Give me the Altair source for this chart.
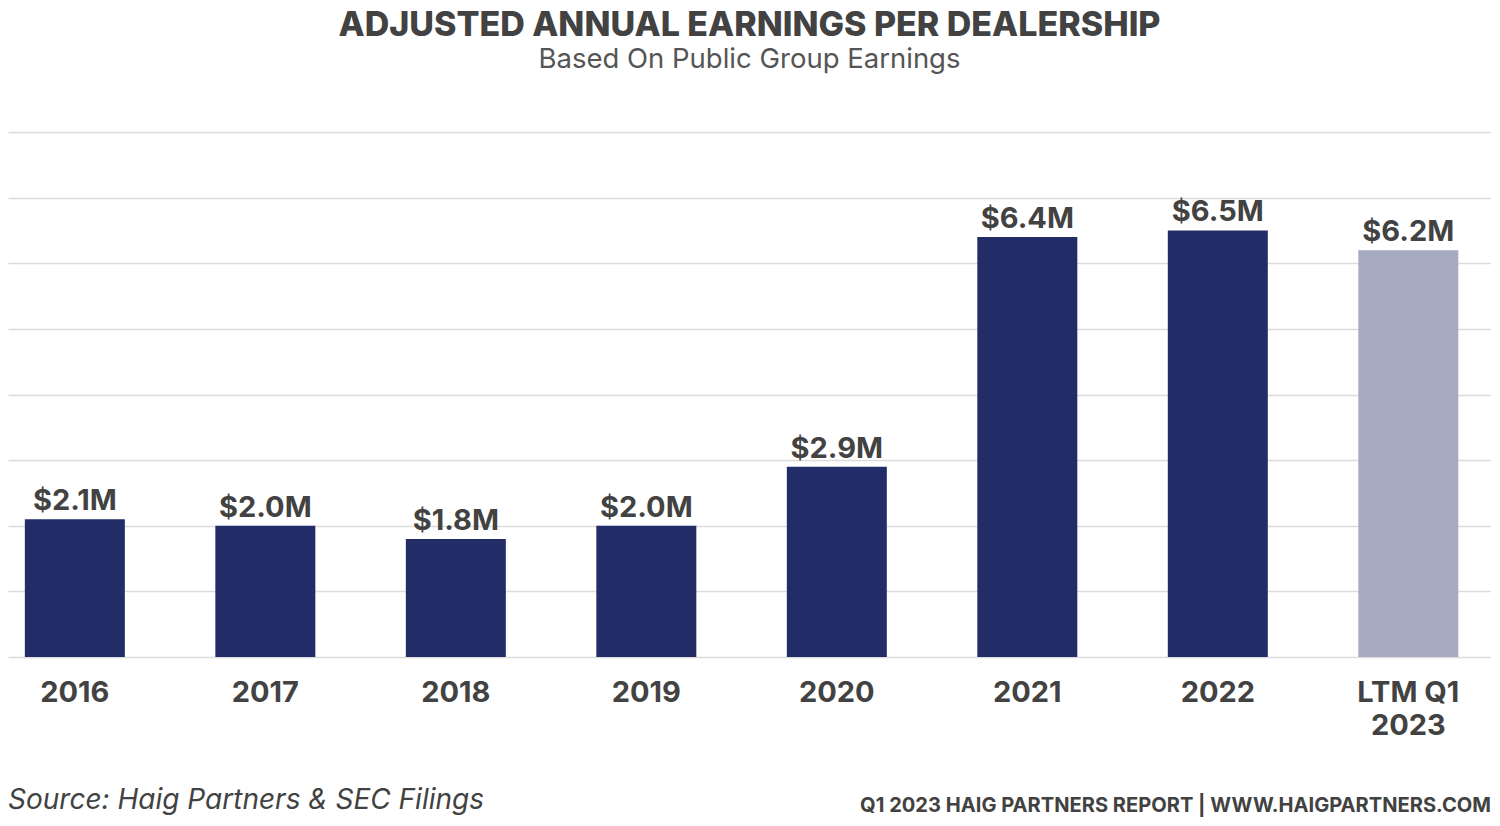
import altair as alt
import pandas as pd

categories = ["2016", "2017", "2018", "2019", "2020", "2021", "2022", "LTM Q1 2023"]
values = [2.1, 2.0, 1.8, 2.0, 2.9, 6.4, 6.5, 6.2]
labels = ["$2.1M", "$2.0M", "$1.8M", "$2.0M", "$2.9M", "$6.4M", "$6.5M", "$6.2M"]
kinds = ["actual"] * 7 + ["ltm"]

df = pd.DataFrame({"cat": categories, "val": values, "lab": labels, "kind": kinds})

FONT = "Inter"
TXT = "#424242"
W, H = 1483, 525

xscale = alt.Scale(paddingInner=0.475, paddingOuter=0.13, align=0.34)
x = alt.X("cat:N", sort=categories, scale=xscale,
          axis=alt.Axis(title=None, domain=False, ticks=False, labelAngle=0,
                        labelFont=FONT, labelFontSize=29, labelFontWeight=700,
                        labelColor=TXT, labelPadding=21, labelLineHeight=33,
                        labelExpr="datum.value == 'LTM Q1 2023' ? ['LTM Q1', '2023'] : datum.label"))
y = alt.Y("val:Q", scale=alt.Scale(domain=[0, 8], nice=False),
          axis=alt.Axis(title=None, labels=False, ticks=False, domain=False,
                        values=[0, 1, 2, 3, 4, 5, 6, 7, 8],
                        gridColor="#dcdcdc", gridWidth=1.5))

base = alt.Chart(df)
bars = base.mark_bar(size=100).encode(
    x=x, y=y,
    color=alt.Color("kind:N", scale=alt.Scale(domain=["actual", "ltm"], range=["#222D67", "#A6ABC2"]), legend=None),
)
text = base.mark_text(dy=-18, font=FONT, fontSize=29, fontWeight=700, color=TXT).encode(
    x=x, y=y, text="lab:N")

foot_df = pd.DataFrame({"t": ["Source: Haig Partners & SEC Filings"]})
foot_l = alt.Chart(foot_df).mark_text(align="left", baseline="middle", font=FONT, fontSize=28,
                                      fontStyle="italic", color=TXT).encode(
    x=alt.value(0), y=alt.value(H + 144), text="t:N")
foot_df2 = pd.DataFrame({"t": ["Q1 2023 HAIG PARTNERS REPORT | WWW.HAIGPARTNERS.COM"]})
foot_r = alt.Chart(foot_df2).mark_text(align="right", baseline="middle", font=FONT, fontSize=20.1,
                                       fontWeight=700, color=TXT).encode(
    x=alt.value(W), y=alt.value(H + 149), text="t:N")

chart = alt.layer(bars, text, foot_l, foot_r).properties(
    width=W, height=H,
    padding=0,
    title=alt.TitleParams(
        "ADJUSTED ANNUAL EARNINGS PER DEALERSHIP",
        subtitle="Based On Public Group Earnings",
        font=FONT, fontSize=34, fontWeight=800, color=TXT,
        subtitleFont=FONT, subtitleFontSize=27.5, subtitleColor="#555555",
        subtitlePadding=3, anchor="middle", offset=54, dy=-5,
    ),
).configure(background="white").configure_view(stroke=None)

chart.save("out.html", embed_options={"renderer": "svg", "actions": False})
